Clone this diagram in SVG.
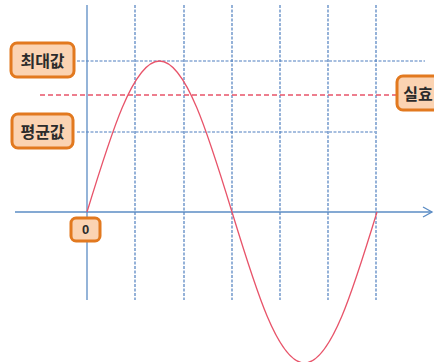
<svg xmlns="http://www.w3.org/2000/svg" width="434" height="362" viewBox="0 0 434 362">
<style>
.axis{stroke:#5b8cc4;stroke-width:1.3;fill:none}
.grid{stroke:#4f7fbf;stroke-width:1.2;stroke-dasharray:3 1.5;fill:none}
.eff{stroke:#e8546a;stroke-width:1.3;stroke-dasharray:5 3;fill:none}
.wave{stroke:#e8546a;stroke-width:1.3;fill:none}
.box{fill:#fbd3b2;stroke:#e2791f;stroke-width:3}
.lbl{font-family:"Noto Sans CJK KR","Noto Sans",sans-serif;font-weight:bold;font-size:16px;fill:#2b2b2b;text-anchor:middle;dominant-baseline:central}
</style>
<defs>
<marker id="arr" markerWidth="12" markerHeight="12" refX="10" refY="6" orient="auto" markerUnits="userSpaceOnUse">
<path d="M1,1 L10,6 L1,11" fill="none" stroke="#5b8cc4" stroke-width="1.3"/>
</marker>
</defs>
<rect width="434" height="362" fill="#ffffff"/>
<g id="connectors">
<line class="grid" x1="135" y1="5" x2="135" y2="300"/>
<line class="grid" x1="184" y1="5" x2="184" y2="300"/>
<line class="grid" x1="232" y1="5" x2="232" y2="300"/>
<line class="grid" x1="280" y1="5" x2="280" y2="300"/>
<line class="grid" x1="328" y1="5" x2="328" y2="300"/>
<line class="grid" x1="376" y1="5" x2="376" y2="300"/>
<line class="grid" x1="77" y1="61" x2="425" y2="61"/>
<line class="grid" x1="77" y1="132" x2="375" y2="132"/>
<line class="eff" x1="40" y1="95" x2="397" y2="95"/>
<line class="axis" x1="87" y1="5" x2="87" y2="300"/>
<line class="axis" x1="15" y1="212" x2="432" y2="212" marker-end="url(#arr)"/>
<path class="wave" d="M87,212 C110.64,134.64 133.26,61 159.5,61 C185.74,61 208.36,134.64 232,212 C255.64,289.36 278.26,363 304.5,363 C330.74,363 353.36,289.36 377,212"/>
</g>
<g id="max">
<rect class="box" x="11" y="43" width="63" height="34" rx="6"/>
<text class="lbl" x="42.5" y="60">최대값</text>
</g>
<g id="avg">
<rect class="box" x="12" y="114" width="61" height="34" rx="6"/>
<text class="lbl" x="42.5" y="131">평균값</text>
</g>
<g id="rms">
<rect class="box" x="397" y="76" width="60" height="34" rx="6"/>
<text class="lbl" x="418" y="93">실효</text>
</g>
<g id="zero">
<rect class="box" x="71" y="218" width="29" height="23" rx="5"/>
<text class="lbl" x="85.5" y="229.5" style="font-family:'Liberation Sans',sans-serif;font-size:13px">0</text>
</g>
</svg>
